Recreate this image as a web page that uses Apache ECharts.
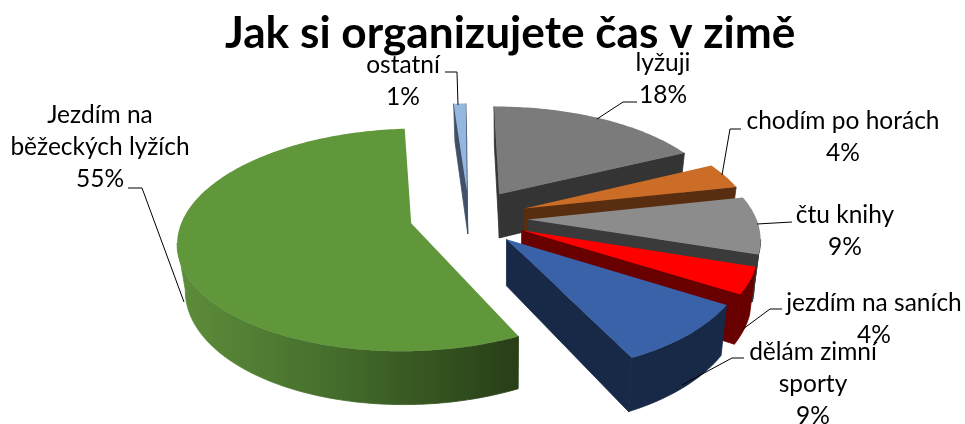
<!DOCTYPE html>
<html><head><meta charset="utf-8">
<style>html,body{margin:0;padding:0;background:#fff}#c{width:965px;height:424px}</style>
<script src="https://cdn.jsdelivr.net/npm/echarts@6/dist/echarts.min.js"></script>
</head><body><div id="c"></div>
<script>
const titleText = 'Jak si organizujete čas v zimě';
const categories = ['lyžuji','chodím po horách','čtu knihy','jezdím na saních','dělám zimní sporty','Jezdím na běžeckých lyžích','ostatní'];
const values = [18,4,9,4,9,55,1];
const labelLines = [
 ['lyžuji','18%'],['chodím po horách','4%'],['čtu knihy','9%'],['jezdím na saních','4%'],
 ['dělám zimní','sporty','9%'],['Jezdím na','běžeckých lyžích','55%'],['ostatní','1%']];
// appearance and layout
const topColors = ['#7b7b7b','#cb6c27','#8c8c8c','#ff0000','#3a62a9','#60973a','#95b7df'];
const sideColors = ['#343434','#592d10','#3a3a3a','#680000','#172947',null,'#3f5068'];
const paintOrder = [2,3,4,5,6,1,0];
const labelCentres = [[663,63],[843,121],[845,215],[874,303],[813,352],[100,115],[403,65]];
const leaders = [
 [[637,102],[623,102],[597,119]],
 [[741,129],[730,129],[722,175]],
 [[792,222],[757,224]],
 [[782,309],[770,309],[743,329]],
 [[744,358],[732,358],[682,385]],
 [[128,188],[142,188],[184,302]],
 [[445,72],[457,72],[458,105]]];
const view = {cx:469,cy:217,R:228,Ry:107,p:0.148,D:45,explode:0.258,startDeg:-0.4,
  warpA:4.4,warpB:1.5,dropX:505,dropK:0.025};
const LINE = 32;

function project(x,y,drop){
  const w = 1+view.p*y;
  const sx = view.cx+view.R*x/w, sy = view.cy-view.Ry*y/w;
  return drop ? [sx-view.dropK*(sx-view.dropX), sy+view.D/w] : [sx,sy];
}
// the original renderer's projection bends angles a little away from the top of the pie
function warped(deg){
  const r=deg*Math.PI/180, c=1-Math.cos(r), c4=c*c*c*c;
  return (deg-view.warpA*c4/(view.warpB+c4))*Math.PI/180;
}
function area2(q){let s=0;for(let i=0;i<q.length;i++){const a=q[i],b=q[(i+1)%q.length];s+=a[0]*b[1]-b[0]*a[1];}return s;}
const total = values.reduce((a,b)=>a+b,0);

function renderItem(params,api){
  const i=params.dataIndex;
  const before=values.slice(0,i).reduce((a,b)=>a+b,0);
  const v=api.value(0);
  const d0=view.startDeg+before/total*360;
  const d1=view.startDeg+(before+v)/total*360;
  const mid=(d0+d1)/2*Math.PI/180;
  const ox=view.explode*Math.sin(mid), oy=view.explode*Math.cos(mid);
  const n=Math.max(6,Math.round((d1-d0)));
  const rimW=[];
  for(let k=0;k<=n;k++){const t=warped(d0+(d1-d0)*k/n);rimW.push([ox+Math.sin(t),oy+Math.cos(t)]);}
  const top=rimW.map(p=>project(p[0],p[1],false));
  const bot=rimW.map(p=>project(p[0],p[1],true));
  const A=project(ox,oy,false),Ab=project(ox,oy,true);
  const side=sideColors[i]||new echarts.graphic.LinearGradient(0,0,1,0,[
    {offset:0,color:'#5d8e3b'},{offset:0.45,color:'#456e2c'},{offset:1,color:'#283e17'}]);
  const z=paintOrder[i];
  const children=[];
  const poly=(pts,fill,seal)=>children.push({type:'polygon',z2:z,shape:{points:pts},
    style:seal?{fill:fill,stroke:fill,lineWidth:0.8,lineJoin:'round'}:{fill:fill}});
  // cut faces
  const qs=[A,top[0],bot[0],Ab], qe=[A,top[n],bot[n],Ab];
  if(area2(qs)<0) poly(qs,sideColors[i]||'#283e17',true);
  if(area2(qe)>0) poly(qe,sideColors[i]||'#283e17',true);
  // rim wall
  let run=[];
  const flush=()=>{if(run.length>1){poly(run.map(k=>top[k]).concat(run.slice().reverse().map(k=>bot[k])),side,true);}run=[];};
  for(let k=0;k<n;k++){
    if(top[k+1][0]<top[k][0]){ if(!run.length)run.push(k); run.push(k+1);} else flush();
  }
  flush();
  // top face
  poly([A].concat(top),topColors[i],false);
  // leader and label
  children.push({type:'polyline',z2:50,shape:{points:leaders[i]},style:{stroke:'#000',lineWidth:1,fill:null}});
  labelLines[i].forEach((t,j)=>{
    children.push({type:'text',z2:60,style:{text:t,x:labelCentres[i][0],y:labelCentres[i][1]+j*LINE,
      align:'center',verticalAlign:'middle',fill:'#000',font:'24.5px Lato'}});
  });
  return {type:'group',children:children};
}
const chart=echarts.init(document.getElementById('c'),null,{renderer:'canvas'});
chart.setOption({
  animation:false,
  backgroundColor:'#fff',
  title:{text:titleText,left:220,top:7,textStyle:{fontFamily:'Lato',fontWeight:'bold',fontSize:44.2,color:'#000'}},
  series:[{type:'custom',coordinateSystem:'none',clip:false,renderItem:renderItem,
    name:'Jak si organizujete čas v zimě',
    data:values.map((v,i)=>({name:categories[i],value:[v]}))}]
});
</script></body></html>
